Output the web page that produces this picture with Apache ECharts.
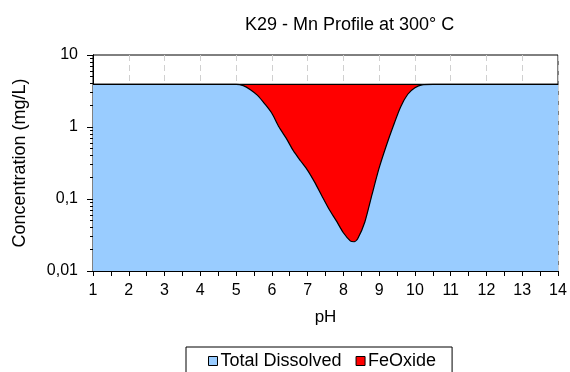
<!DOCTYPE html>
<html>
<head>
<meta charset="utf-8">
<script src="https://cdn.jsdelivr.net/npm/echarts@6/dist/echarts.min.js"></script>
<style>html,body{margin:0;padding:0;background:#fff}#c{width:570px;height:372px}</style>
</head>
<body>
<div id="c"></div>
<script>
const ph = [1, 2, 3, 4, 4.5, 5, 5.2, 5.4, 5.6, 5.8, 6.0, 6.2, 6.4, 6.6, 6.8, 7.0, 7.2, 7.4, 7.6, 7.8, 8.0, 8.2, 8.3, 8.4, 8.6, 8.8, 9.0, 9.2, 9.4, 9.6, 9.8, 10.0, 10.2, 10.5, 11, 12, 13, 14];
const totalDissolved = [3.9, 3.9, 3.9, 3.9, 3.9, 3.9, 3.75, 3.3, 2.75, 2.1, 1.55, 1.0, 0.7, 0.47, 0.34, 0.25, 0.17, 0.11, 0.072, 0.05, 0.034, 0.026, 0.0255, 0.028, 0.048, 0.115, 0.27, 0.55, 1.05, 1.9, 2.85, 3.5, 3.85, 3.9, 3.9, 3.9, 3.9, 3.9];
const feOxide = [0, 0, 0, 0, 0, 0, 0.15, 0.6, 1.15, 1.8, 2.35, 2.9, 3.2, 3.43, 3.56, 3.65, 3.73, 3.79, 3.828, 3.85, 3.866, 3.874, 3.8745, 3.872, 3.852, 3.785, 3.63, 3.35, 2.85, 2.0, 1.05, 0.4, 0.05, 0, 0, 0, 0, 0];
const yMinor = [0.02,0.03,0.04,0.05,0.06,0.07,0.08,0.09,0.2,0.3,0.4,0.5,0.6,0.7,0.8,0.9,2,3,4,5,6,7,8,9];

const stackTop = ph.map((x, i) => [x, totalDissolved[i] + feOxide[i]]);
const dissolvedPts = ph.map((x, i) => [x, totalDissolved[i]]);

const chart = echarts.init(document.getElementById('c'));
const font = 'Liberation Sans, Arial, sans-serif';
chart.setOption({
  animation: false,
  title: {
    text: 'K29 - Mn Profile at 300° C',
    left: 240, top: 11,
    textStyle: {fontFamily: font, fontSize: 18, fontWeight: 'normal', color: '#000'}
  },
  legend: {
    top: 347, left: 186,
    itemWidth: 9, itemHeight: 9, itemGap: 14,
    borderColor: '#000', borderWidth: 1,
    padding: [5, 16, 12, 22],
    textStyle: {fontFamily: font, fontSize: 18, color: '#000', padding: [0, 0, 0, -2]},
    data: [
      {name: 'Total Dissolved', icon: 'rect', itemStyle: {color: '#99ccff', borderColor: '#000', borderWidth: 1}},
      {name: 'FeOxide', icon: 'rect', itemStyle: {color: '#ff0000', borderColor: '#000', borderWidth: 1}}
    ]
  },
  grid: {left: 93, right: 12, top: 55, bottom: 101, show: true, borderColor: '#000', borderWidth: 1},
  xAxis: {
    type: 'value', min: 1, max: 14, interval: 1,
    name: 'pH', nameLocation: 'middle', nameGap: 38,
    nameTextStyle: {fontFamily: font, fontSize: 17, color: '#000'},
    axisLine: {lineStyle: {color: '#000', width: 1}},
    axisTick: {show: true, length: 5, lineStyle: {color: '#000'}},
    minorTick: {show: true, splitNumber: 2, length: 5, lineStyle: {color: '#000'}},
    axisLabel: {fontFamily: font, fontSize: 16, color: '#000', margin: 12},
    splitLine: {show: true, lineStyle: {color: '#d0d0d0', type: [6, 4], width: 1}}
  },
  yAxis: [{
    type: 'log', logBase: 10, min: 0.01, max: 10,
    name: 'Concentration (mg/L)', nameLocation: 'middle', nameGap: 64,
    nameTextStyle: {fontFamily: font, fontSize: 18, color: '#000'},
    axisLine: {show: true, lineStyle: {color: '#000'}},
    axisTick: {show: true, length: 6, lineStyle: {color: '#000'}},
    axisLabel: {fontFamily: font, fontSize: 16, color: '#000', margin: 15,
      formatter: v => String(v).replace('.', ',')},
    splitLine: {show: false}
  }, {
    type: 'log', logBase: 10, min: 0.01, max: 10, position: 'left',
    axisLine: {show: true, lineStyle: {color: '#000'}},
    axisTick: {show: true, length: 3, interval: 0, customValues: yMinor, lineStyle: {color: '#000'}},
    axisLabel: {show: false},
    splitLine: {show: false}
  }],
  series: [{
    name: 'FeOxide', type: 'line',
    data: stackTop,
    showSymbol: false,
    lineStyle: {color: '#000', width: 1.2},
    itemStyle: {color: '#ff0000'},
    areaStyle: {color: '#ff0000', opacity: 1, origin: 0.01},
    z: 2
  }, {
    name: 'Total Dissolved', type: 'line',
    data: dissolvedPts,
    showSymbol: false, smooth: 0.25,
    lineStyle: {color: '#000', width: 1.2},
    itemStyle: {color: '#99ccff'},
    areaStyle: {color: '#99ccff', opacity: 1, origin: 0.01},
    z: 3
  }]
});
</script>
</body>
</html>
